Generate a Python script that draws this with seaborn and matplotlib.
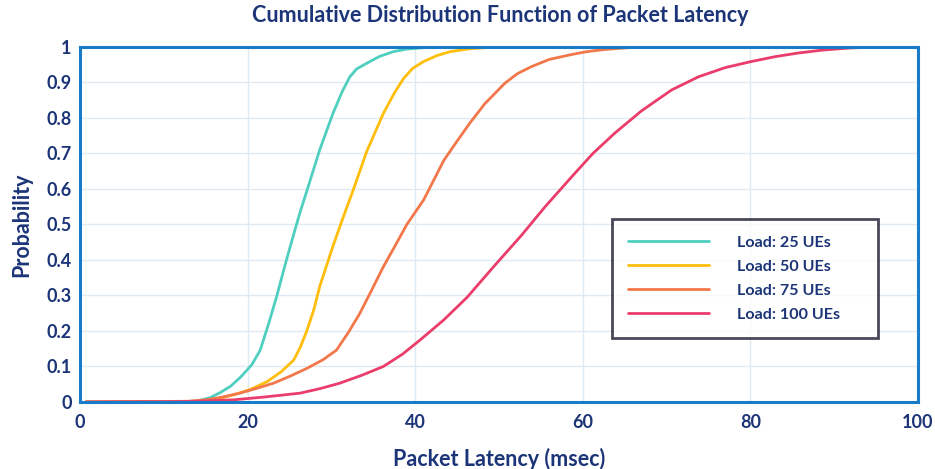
import matplotlib
matplotlib.use("Agg")
import matplotlib.pyplot as plt
import pandas as pd
import seaborn as sns

# Latency (msec) / probability points
load_labels = ["Load: 25 UEs", "Load: 50 UEs", "Load: 75 UEs", "Load: 100 UEs"]

lat_25 = [0.7, 12.0, 14.0, 15.5, 16.7, 18.0, 19.2, 20.5, 21.5, 22.5, 23.5, 24.4, 25.3, 26.2, 27.1,
          28.6, 30.2, 31.3, 32.2, 33.0, 34.2, 35.7, 37.4, 39.0, 41.0, 45.0, 100.0]
cdf_25 = [0.0, 0.001, 0.003, 0.012, 0.026, 0.045, 0.071, 0.105, 0.146, 0.22, 0.30, 0.38, 0.456, 0.53, 0.597,
          0.71, 0.814, 0.875, 0.916, 0.938, 0.954, 0.973, 0.987, 0.994, 0.998, 1.0, 1.0]

lat_50 = [0.7, 13.0, 15.0, 16.8, 18.3, 20.3, 22.3, 24.0, 25.5, 26.3, 27.1, 27.9, 28.6, 30.2, 31.4, 32.6,
          34.2, 36.2, 37.5, 38.6, 39.7, 41.0, 42.6, 44.2, 46.5, 49.5, 100.0]
cdf_50 = [0.0, 0.001, 0.004, 0.011, 0.02, 0.035, 0.057, 0.085, 0.118, 0.155, 0.203, 0.26, 0.325, 0.44, 0.52, 0.597,
          0.705, 0.813, 0.87, 0.911, 0.94, 0.959, 0.976, 0.987, 0.995, 1.0, 1.0]

lat_75 = [0.7, 13.0, 15.1, 17.0, 19.1, 21.0, 23.1, 25.0, 27.1, 29.0, 30.6, 32.0, 33.4, 34.8, 36.2, 37.6,
          39.0, 41.0, 43.4, 45.0, 46.5, 48.3, 50.7, 52.2, 53.9, 56.0, 58.7, 60.5, 62.6, 66.6, 100.0]
cdf_75 = [0.0, 0.002, 0.006, 0.014, 0.025, 0.038, 0.053, 0.072, 0.095, 0.119, 0.146, 0.195, 0.25, 0.315, 0.381, 0.44,
          0.50, 0.569, 0.68, 0.735, 0.785, 0.84, 0.898, 0.925, 0.945, 0.965, 0.979, 0.987, 0.993, 1.0, 1.0]

lat_100 = [0.7, 12.0, 15.0, 18.3, 22.0, 26.3, 28.7, 31.0, 33.6, 36.2, 38.5, 40.6, 43.4, 46.2, 49.5, 52.7,
           55.5, 58.7, 61.2, 63.8, 67.0, 70.6, 73.8, 77.0, 80.1, 83.0, 85.7, 88.5, 91.7, 95.0, 100.0]
cdf_100 = [0.0, 0.001, 0.003, 0.006, 0.014, 0.025, 0.038, 0.053, 0.075, 0.10, 0.135, 0.175, 0.231, 0.295, 0.385, 0.47,
           0.55, 0.635, 0.70, 0.757, 0.82, 0.879, 0.916, 0.942, 0.959, 0.973, 0.983, 0.991, 0.997, 1.0, 1.0]

colors = ["#4FCFBF", "#FFBE0B", "#F2774A", "#EA3D6B"]
NAVY = "#1C3578"
BLUE = "#1A7BC6"


def main() -> None:
    frames = []
    for label, xs, ys in zip(load_labels, [lat_25, lat_50, lat_75, lat_100],
                             [cdf_25, cdf_50, cdf_75, cdf_100]):
        frames.append(pd.DataFrame({"latency": xs, "prob": ys, "load": label}))
    df = pd.concat(frames, ignore_index=True)

    sns.set_theme(style="white")
    plt.rcParams["font.family"] = ["Lato", "DejaVu Sans"]

    fig = plt.figure(figsize=(9.35, 4.69), dpi=100)
    ax = fig.add_axes([0.0856, 0.1429, 0.8962, 0.7569])

    sns.lineplot(data=df, x="latency", y="prob", hue="load", hue_order=load_labels,
                 palette=colors, linewidth=2.0, ax=ax, estimator=None, sort=False)

    ax.set_xlim(0, 100)
    ax.set_ylim(0, 1)
    ax.set_xticks([0, 20, 40, 60, 80, 100])
    ax.set_yticks([i / 10 for i in range(11)])
    ax.set_yticklabels(["0"] + [f"{i / 10:.1f}" for i in range(1, 10)] + ["1"])
    ax.grid(True, color="#E0EAF3", linewidth=1.0)
    ax.tick_params(length=0, labelsize=13, labelcolor=NAVY)
    ax.tick_params(axis="x", pad=9)
    ax.tick_params(axis="y", pad=6)
    for lab in ax.get_xticklabels() + ax.get_yticklabels():
        lab.set_fontweight("bold")
    for sp in ax.spines.values():
        sp.set_color(BLUE)
        sp.set_linewidth(2.2)

    ax.set_xlabel("Packet Latency (msec)", fontsize=15.5, fontweight="bold", color=NAVY, labelpad=12)
    ax.set_ylabel("Probability", fontsize=15.5, fontweight="bold", color=NAVY, labelpad=10)
    fig.suptitle("Cumulative Distribution Function of Packet Latency", x=0.535, y=0.99,
                 fontsize=15.5, fontweight="bold", color=NAVY)

    leg = ax.legend(loc="upper left", bbox_to_anchor=(0.635, 0.186, 0.3174, 0.329), mode="expand",
                    frameon=True, fancybox=False, fontsize=11.6, handlelength=5.0, handletextpad=1.75,
                    borderpad=1.0, labelspacing=0.61, borderaxespad=0)
    leg.get_frame().set_edgecolor("#1A1A2E")
    leg.get_frame().set_linewidth(2.0)
    for t in leg.get_texts():
        t.set_color(NAVY)
        t.set_fontweight("bold")

    fig.savefig("out.png", dpi=100)


if __name__ == "__main__":
    main()
